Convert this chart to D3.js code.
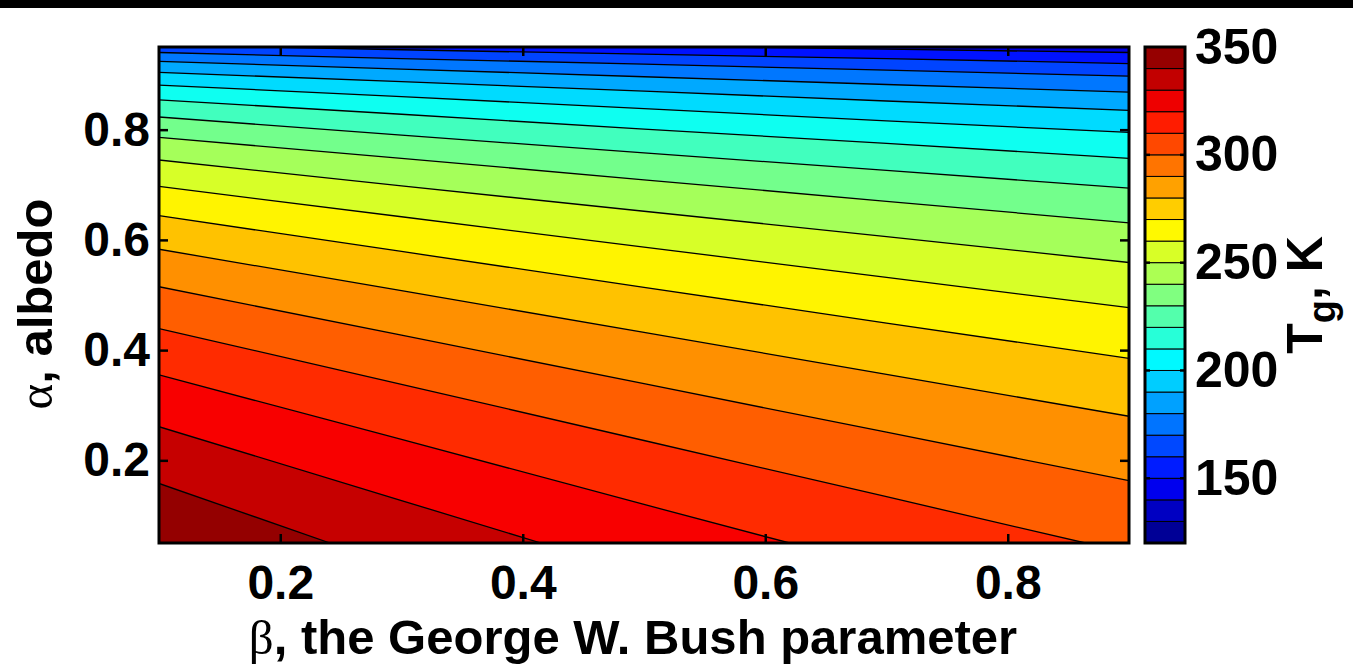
<!DOCTYPE html>
<html>
<head>
<meta charset="utf-8">
<script src="https://cdn.jsdelivr.net/npm/d3@7"></script>
<style>
  body { margin: 0; background: #fff; }
  svg { display: block; }
  .tick text { font-family: "Liberation Sans", Arial, sans-serif; font-weight: bold; }
</style>
</head>
<body>
<div id="chart"></div>
<script>
// axis ranges and ticks
const betaRange = [0.1, 0.9];
const alphaRange = [0.05, 0.95];
const betaTicks = [0.2, 0.4, 0.6, 0.8];
const alphaTicks = [0.2, 0.4, 0.6, 0.8];
const tgRange = [120, 350];
const tgTicks = [150, 200, 250, 300, 350];

// contour levels of T_g (K)
const levels = [140, 150, 160, 170, 180, 190, 200, 210, 220, 230, 240, 250, 260, 270, 280, 290, 300, 310];

// each contour line as [beta, alpha] points
const contourLines = [
  [[0.570, 0.950], [0.7, 0.946], [0.9, 0.940]],
  [[0.191, 0.950], [0.3, 0.945], [0.5, 0.937], [0.7, 0.929], [0.9, 0.920]],
  [[0.1, 0.940], [0.3, 0.929], [0.5, 0.919], [0.7, 0.908], [0.9, 0.897]],
  [[0.1, 0.924], [0.3, 0.910], [0.5, 0.896], [0.7, 0.882], [0.9, 0.868]],
  [[0.1, 0.904], [0.3, 0.887], [0.5, 0.870], [0.7, 0.852], [0.9, 0.835]],
  [[0.1, 0.881], [0.3, 0.860], [0.5, 0.838], [0.7, 0.816], [0.9, 0.795]],
  [[0.1, 0.854], [0.3, 0.828], [0.5, 0.801], [0.7, 0.775], [0.9, 0.748]],
  [[0.1, 0.823], [0.3, 0.790], [0.5, 0.758], [0.7, 0.726], [0.9, 0.694]],
  [[0.1, 0.786], [0.3, 0.748], [0.5, 0.709], [0.7, 0.670], [0.9, 0.631]],
  [[0.1, 0.745], [0.3, 0.698], [0.5, 0.652], [0.7, 0.606], [0.9, 0.559]],
  [[0.1, 0.697], [0.3, 0.642], [0.5, 0.587], [0.7, 0.532], [0.9, 0.477]],
  [[0.1, 0.644], [0.3, 0.579], [0.5, 0.514], [0.7, 0.449], [0.9, 0.385]],
  [[0.1, 0.583], [0.3, 0.508], [0.5, 0.432], [0.7, 0.356], [0.9, 0.280]],
  [[0.1, 0.515], [0.3, 0.427], [0.5, 0.339], [0.7, 0.251], [0.9, 0.163]],
  [[0.1, 0.439], [0.3, 0.338], [0.5, 0.236], [0.7, 0.134], [0.864, 0.050]],
  [[0.1, 0.355], [0.3, 0.238], [0.5, 0.120], [0.620, 0.050]],
  [[0.1, 0.261], [0.3, 0.127], [0.415, 0.050]],
  [[0.1, 0.158], [0.241, 0.050]]
];

const W = 1353, H = 672;
const plot = { left: 159, right: 1129, top: 47, bottom: 543 };
const cbar = { left: 1145, right: 1185 };

// MATLAB-style jet colormap
function jet(t) {
  t = Math.max(0, Math.min(1, t));
  const c = v => Math.round(255 * Math.max(0, Math.min(1, 1.5 - Math.abs(v))));
  return `rgb(${c(4 * t - 3)},${c(4 * t - 2)},${c(4 * t - 1)})`;
}

const svg = d3.select("#chart").append("svg")
  .attr("width", W)
  .attr("height", H);

svg.append("rect").attr("width", W).attr("height", H).attr("fill", "#fff");
svg.append("rect").attr("width", W).attr("height", 8).attr("fill", "#000");

const x = d3.scaleLinear().domain(betaRange).range([plot.left, plot.right]);
const y = d3.scaleLinear().domain(alphaRange).range([plot.bottom, plot.top]);

// colours of the filled bands in the plot
const fillColor = d3.scaleSequential(jet).domain([116, 319]);

svg.append("clipPath").attr("id", "clip")
  .append("rect")
  .attr("x", plot.left).attr("y", plot.top)
  .attr("width", plot.right - plot.left)
  .attr("height", plot.bottom - plot.top);

const area = svg.append("g").attr("clip-path", "url(#clip)");

// band below the lowest level
area.append("rect")
  .attr("x", plot.left).attr("y", plot.top)
  .attr("width", plot.right - plot.left)
  .attr("height", plot.bottom - plot.top)
  .attr("fill", fillColor(levels[0] - 5));

const line = d3.line().x(d => x(d[0])).y(d => y(d[1]));

// region T >= level, painted from the lowest level upward
levels.forEach((lev, i) => {
  const pts = contourLines[i];
  const poly = [];
  if (pts[0][0] > betaRange[0]) poly.push([betaRange[0], alphaRange[1]]);
  poly.push(...pts);
  const last = pts[pts.length - 1];
  if (last[1] > alphaRange[0]) poly.push([betaRange[1], alphaRange[0]]);
  poly.push([betaRange[0], alphaRange[0]]);
  area.append("path")
    .attr("d", line(poly) + "Z")
    .attr("fill", fillColor(lev + 5));
});

area.selectAll("path.contour")
  .data(contourLines)
  .enter()
  .append("path")
  .attr("class", "contour")
  .attr("d", line)
  .attr("fill", "none")
  .attr("stroke", "#000")
  .attr("stroke-width", 1.3);

// axes, ticks pointing inward on all four sides
const fmt = d3.format(".1f");
const styleAxis = g => {
  g.select(".domain").remove();
  g.selectAll(".tick line").attr("stroke", "#000").attr("stroke-width", 2.5);
  g.selectAll(".tick text").attr("fill", "#000").style("font-size", "48px");
};

svg.append("g")
  .attr("transform", `translate(0,${plot.bottom})`)
  .call(d3.axisBottom(x).tickValues(betaTicks).tickFormat(fmt).tickSize(-9).tickPadding(22))
  .call(styleAxis);

svg.append("g")
  .attr("transform", `translate(0,${plot.top})`)
  .call(d3.axisTop(x).tickValues(betaTicks).tickFormat("").tickSize(-9))
  .call(styleAxis);

svg.append("g")
  .attr("transform", `translate(${plot.left},0)`)
  .call(d3.axisLeft(y).tickValues(alphaTicks).tickFormat(fmt).tickSize(-9).tickPadding(9))
  .call(styleAxis);

svg.append("g")
  .attr("transform", `translate(${plot.right},0)`)
  .call(d3.axisRight(y).tickValues(alphaTicks).tickFormat("").tickSize(-9))
  .call(styleAxis);

svg.append("rect")
  .attr("x", plot.left).attr("y", plot.top)
  .attr("width", plot.right - plot.left)
  .attr("height", plot.bottom - plot.top)
  .attr("fill", "none")
  .attr("stroke", "#000")
  .attr("stroke-width", 3);

// axis labels
const xl = svg.append("text")
  .attr("x", 633)
  .attr("y", 654)
  .attr("text-anchor", "middle")
  .style("font-family", "'Liberation Sans', Arial, sans-serif")
  .style("font-weight", "bold")
  .style("font-size", "49px");
xl.append("tspan").style("font-family", "'Liberation Serif', serif").style("font-weight", "normal").text("β");
xl.append("tspan").text(", the George W. Bush parameter");

const yl = svg.append("text")
  .attr("transform", "translate(52,304) rotate(-90)")
  .attr("text-anchor", "middle")
  .style("font-family", "'Liberation Sans', Arial, sans-serif")
  .style("font-weight", "bold")
  .style("font-size", "49px");
yl.append("tspan").style("font-family", "'Liberation Serif', serif").style("font-weight", "normal").text("α");
yl.append("tspan").text(", albedo");

// colorbar
const cy = d3.scaleLinear().domain(tgRange).range([plot.bottom, plot.top]);
const cbColor = d3.scaleSequential(jet).domain(tgRange);
const cbBands = d3.range(tgRange[0], tgRange[1], 10);

svg.append("g").selectAll("rect")
  .data(cbBands)
  .enter()
  .append("rect")
  .attr("x", cbar.left)
  .attr("y", d => cy(d + 10))
  .attr("width", cbar.right - cbar.left)
  .attr("height", d => cy(d) - cy(d + 10))
  .attr("fill", d => cbColor(d + 5))
  .attr("stroke", "#000")
  .attr("stroke-width", 1);

svg.append("g")
  .attr("transform", `translate(${cbar.right},0)`)
  .call(d3.axisRight(cy).tickValues(tgTicks).tickSize(0).tickPadding(10))
  .call(g => {
    g.select(".domain").remove();
    g.selectAll(".tick text").attr("fill", "#000").style("font-size", "50px");
  });

const cbTicks = svg.append("g");
tgTicks.filter(t => t < tgRange[1]).forEach(t => {
  cbTicks.append("line").attr("x1", cbar.left).attr("x2", cbar.left + 5)
    .attr("y1", cy(t)).attr("y2", cy(t)).attr("stroke", "#000").attr("stroke-width", 2.5);
  cbTicks.append("line").attr("x1", cbar.right - 5).attr("x2", cbar.right)
    .attr("y1", cy(t)).attr("y2", cy(t)).attr("stroke", "#000").attr("stroke-width", 2.5);
});

svg.append("rect")
  .attr("x", cbar.left).attr("y", plot.top)
  .attr("width", cbar.right - cbar.left)
  .attr("height", plot.bottom - plot.top)
  .attr("fill", "none")
  .attr("stroke", "#000")
  .attr("stroke-width", 3);

const cl = svg.append("text")
  .attr("transform", `translate(1322,${(plot.top + plot.bottom) / 2}) rotate(-90)`)
  .attr("text-anchor", "middle")
  .style("font-family", "'Liberation Sans', Arial, sans-serif")
  .style("font-weight", "bold")
  .style("font-size", "50px");
cl.append("tspan").text("T");
cl.append("tspan").attr("dy", 13).style("font-size", "38px").text("g");
cl.append("tspan").attr("dy", -13).text(", K");
</script>
</body>
</html>
